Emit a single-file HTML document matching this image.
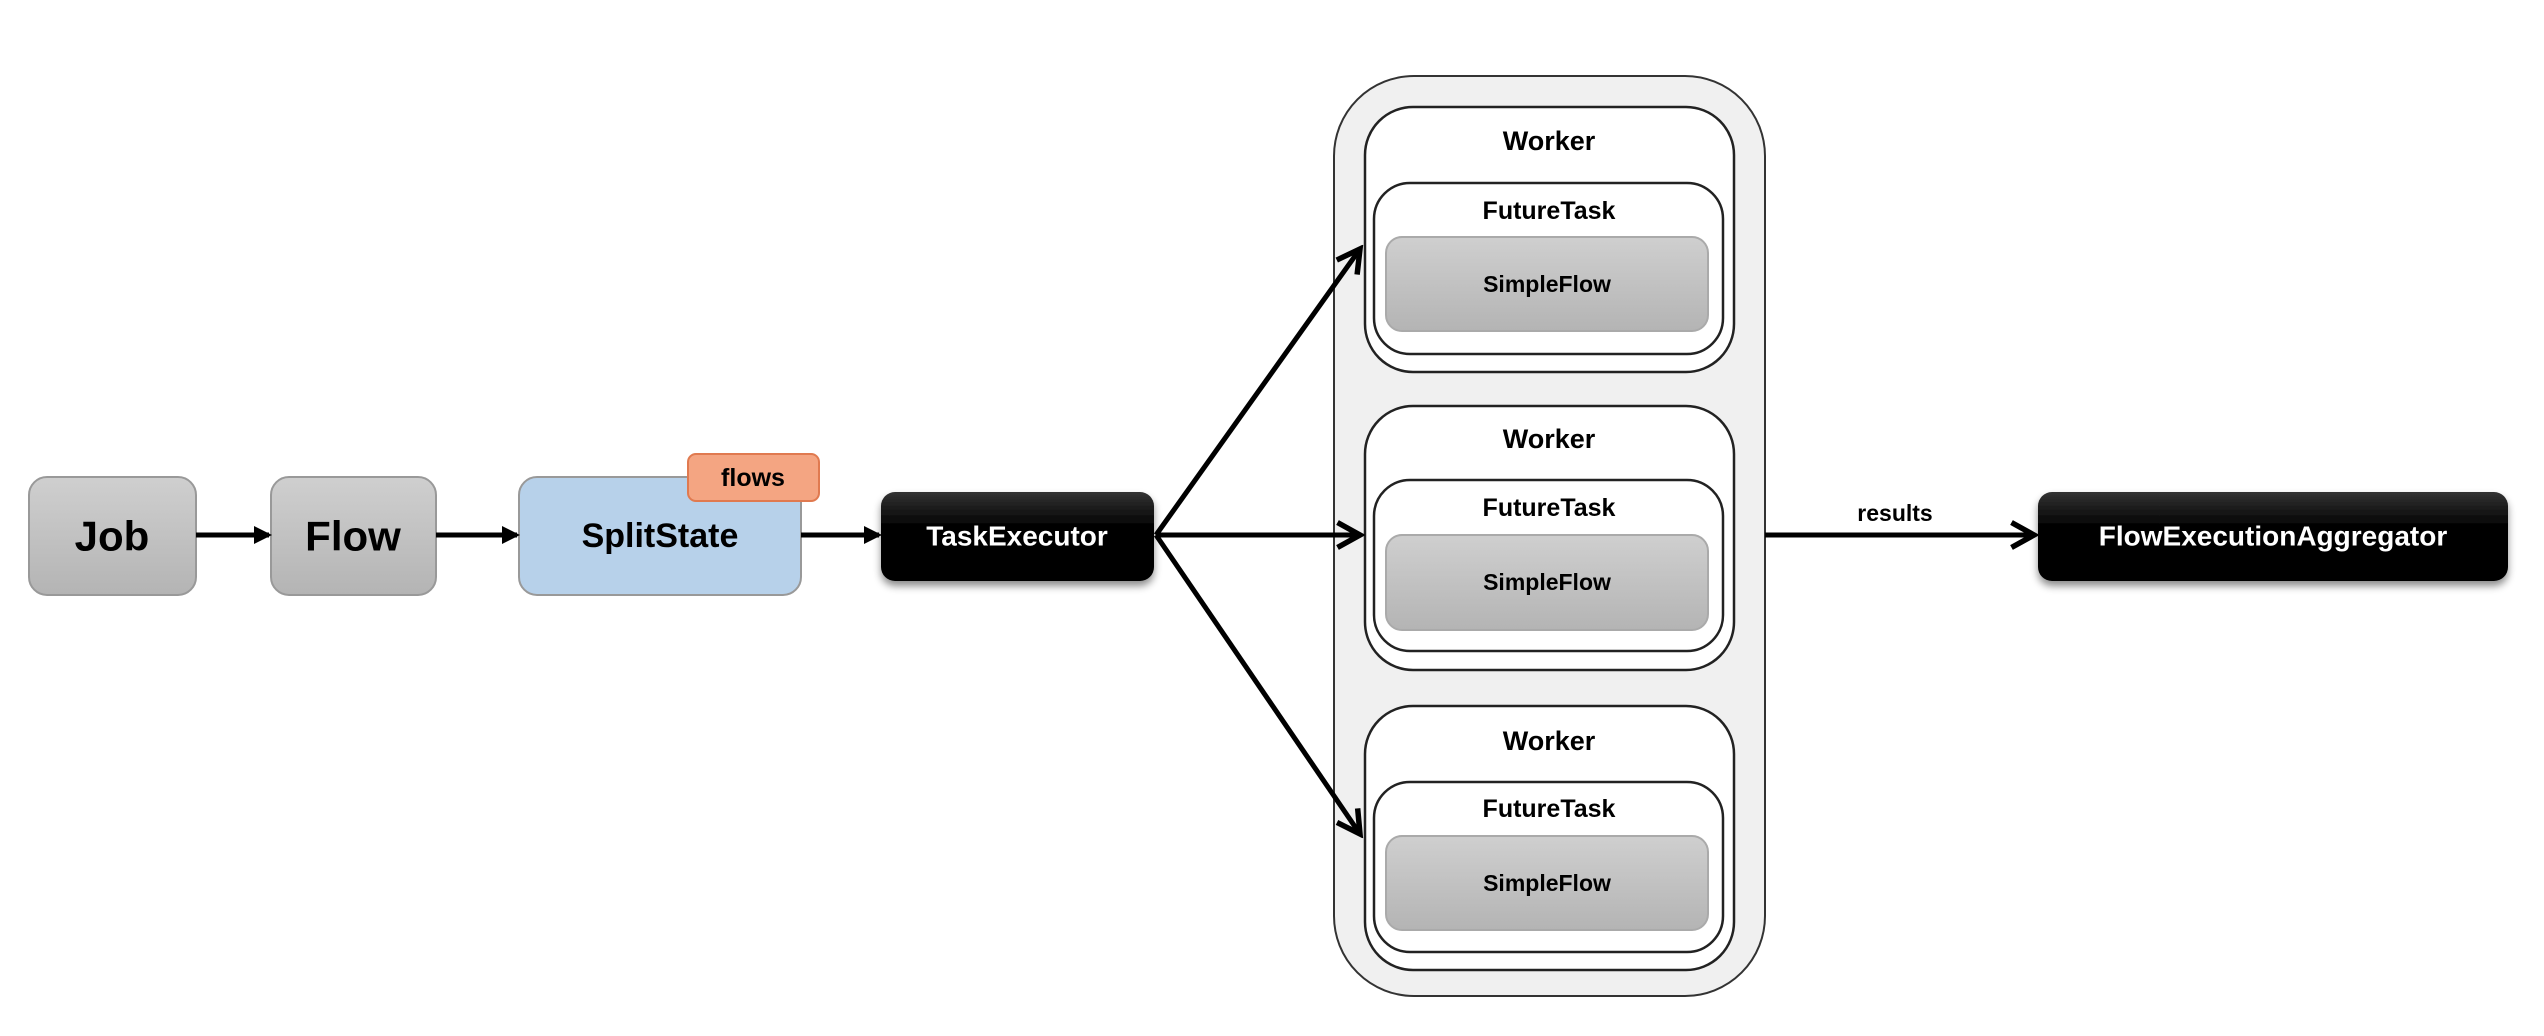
<!DOCTYPE html>
<html><head><meta charset="utf-8"><style>html,body{margin:0;padding:0;background:#fff}svg{display:block}text{font-family:"Liberation Sans",sans-serif;font-weight:bold;text-anchor:middle;dominant-baseline:central}</style></head>
<body>
<svg width="2544" height="1036" viewBox="0 0 2544 1036" xmlns="http://www.w3.org/2000/svg">
<defs>
<linearGradient id="g" x1="0" y1="0" x2="0" y2="1"><stop offset="0" stop-color="#cfcfcf"/><stop offset="1" stop-color="#b4b4b4"/></linearGradient>
<linearGradient id="k" x1="0" y1="0" x2="0" y2="1"><stop offset="0" stop-color="#333"/><stop offset="0.4" stop-color="#000"/><stop offset="1" stop-color="#000"/></linearGradient>
<marker id="a" markerWidth="3.6" markerHeight="3.6" refX="3" refY="1.8" orient="auto" markerUnits="strokeWidth"><path d="M0,0 L3.6,1.8 L0,3.6 Z" fill="#000"/></marker>
<marker id="o" markerWidth="6" markerHeight="6" refX="5" refY="3" orient="auto" markerUnits="strokeWidth"><path d="M0.5,0.5 L5,3 L0.5,5.5" fill="none" stroke="#000" stroke-width="1.1"/></marker>
<filter id="s" x="-10%" y="-10%" width="120%" height="130%"><feDropShadow dx="0" dy="5" stdDeviation="4" flood-color="#000" flood-opacity="0.45"/></filter>
</defs>
<rect x="29" y="477" width="167" height="118" rx="18" fill="url(#g)" stroke="#999" stroke-width="2"/>
<text x="112" y="536" font-size="42">Job</text>
<rect x="271" y="477" width="165" height="118" rx="18" fill="url(#g)" stroke="#999" stroke-width="2"/>
<text x="353" y="536" font-size="42">Flow</text>
<rect x="519" y="477" width="282" height="118" rx="18" fill="#b7d1ea" stroke="#999" stroke-width="2"/>
<text x="660" y="536" font-size="34">SplitState</text>
<rect x="688" y="454" width="131" height="47" rx="8" fill="#f4a582" stroke="#e07a50" stroke-width="2"/>
<text x="753" y="478" font-size="25">flows</text>
<line x1="196" y1="535" x2="269" y2="535" stroke="#000" stroke-width="5" marker-end="url(#a)"/>
<line x1="436" y1="535" x2="517" y2="535" stroke="#000" stroke-width="5" marker-end="url(#a)"/>
<line x1="801" y1="535" x2="879" y2="535" stroke="#000" stroke-width="5" marker-end="url(#a)"/>
<rect x="881" y="492" width="273" height="89" rx="14" fill="url(#k)" filter="url(#s)"/>
<text x="1017" y="536" font-size="28" fill="#fff">TaskExecutor</text>
<rect x="1334" y="76" width="431" height="920" rx="80" fill="#f0f0f0" stroke="#333" stroke-width="2"/>
<g stroke="#222" stroke-width="2.5">
<rect x="1365" y="107" width="369" height="265" rx="48" fill="#fff"/>
<rect x="1374" y="183" width="349" height="171" rx="36" fill="#fff"/>
<rect x="1365" y="406" width="369" height="264" rx="48" fill="#fff"/>
<rect x="1374" y="480" width="349" height="171" rx="36" fill="#fff"/>
<rect x="1365" y="706" width="369" height="264" rx="48" fill="#fff"/>
<rect x="1374" y="782" width="349" height="170" rx="36" fill="#fff"/>
</g>
<g fill="url(#g)" stroke="#aaa" stroke-width="2">
<rect x="1386" y="237" width="322" height="94" rx="16"/>
<rect x="1386" y="535" width="322" height="95" rx="16"/>
<rect x="1386" y="836" width="322" height="94" rx="16"/>
</g>
<g font-size="27"><text x="1549" y="141">Worker</text><text x="1549" y="439">Worker</text><text x="1549" y="741">Worker</text></g>
<g font-size="25"><text x="1549" y="211">FutureTask</text><text x="1549" y="508">FutureTask</text><text x="1549" y="809">FutureTask</text></g>
<g font-size="23"><text x="1547" y="284">SimpleFlow</text><text x="1547" y="582">SimpleFlow</text><text x="1547" y="883">SimpleFlow</text></g>
<g stroke="#000" stroke-width="5" fill="none">
<line x1="1156" y1="535" x2="1360" y2="249" marker-end="url(#o)"/>
<line x1="1156" y1="535" x2="1360" y2="535" marker-end="url(#o)"/>
<line x1="1156" y1="535" x2="1360" y2="834" marker-end="url(#o)"/>
<line x1="1765" y1="535" x2="2034" y2="535" marker-end="url(#o)"/>
</g>
<text x="1895" y="513" font-size="23">results</text>
<rect x="2038" y="492" width="470" height="89" rx="14" fill="url(#k)" filter="url(#s)"/>
<text x="2273" y="536" font-size="28" fill="#fff">FlowExecutionAggregator</text>
</svg>
</body></html>
